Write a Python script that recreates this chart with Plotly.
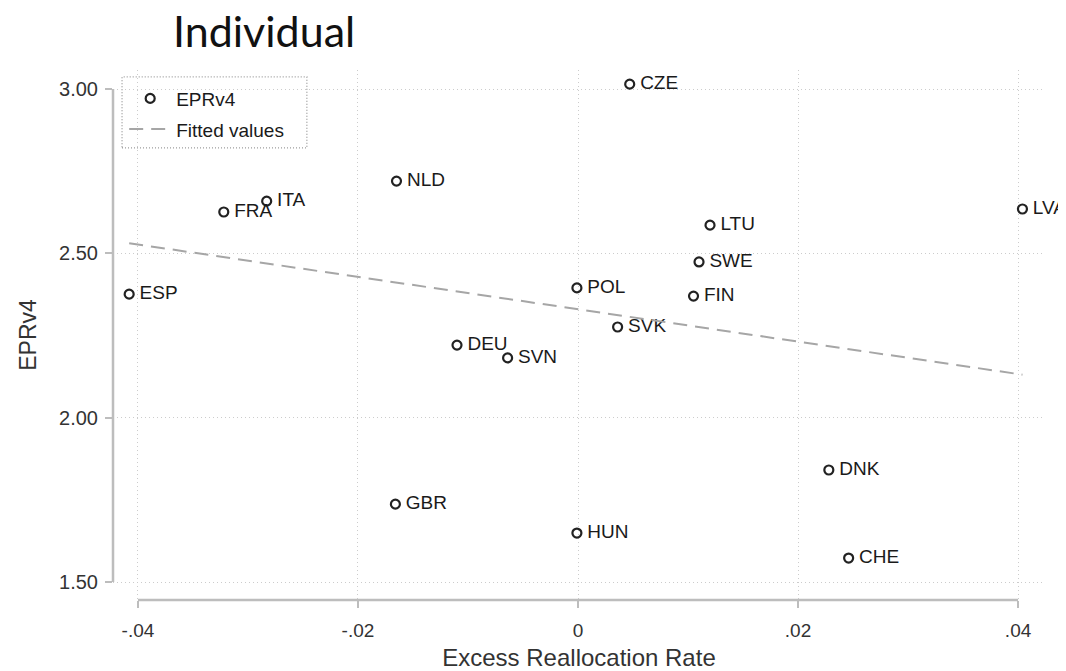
import plotly.graph_objects as go

countries = ["CZE", "NLD", "ITA", "FRA", "ESP", "LTU", "LVA", "SWE", "POL", "FIN",
             "SVK", "DEU", "SVN", "DNK", "GBR", "HUN", "CHE"]
excess_realloc = [0.0047, -0.0165, -0.0283, -0.0322, -0.0408, 0.0120, 0.0404, 0.0110,
                  -0.0001, 0.0105, 0.0036, -0.0110, -0.0064, 0.0228, -0.0166, -0.0001, 0.0246]
eprv4 = [3.015, 2.720, 2.659, 2.626, 2.376, 2.586, 2.635, 2.474, 2.395, 2.370,
         2.276, 2.221, 2.182, 1.841, 1.737, 1.649, 1.573]

fit_x = [-0.0408, 0.0404]
fit_y = [2.531, 2.131]

x_ticks = [-0.04, -0.02, 0, 0.02, 0.04]
x_ticktext = ["-.04", "-.02", "0", ".02", ".04"]
y_ticks = [1.5, 2.0, 2.5, 3.0]
y_ticktext = ["1.50", "2.00", "2.50", "3.00"]

FONT = "Liberation Sans, Arial, sans-serif"
AXIS_GRAY = "#bdbdbd"
GRID = "#cccccc"

labels = ["\u2009" + c for c in countries]

fig = go.Figure()
fig.add_trace(go.Scatter(
    x=excess_realloc, y=eprv4, mode="markers+text", name="EPRv4", legendgroup="a",
    text=labels, textposition="middle right", cliponaxis=False,
    textfont=dict(family=FONT, size=19, color="#1a1a1a"),
    marker=dict(symbol="circle-open", size=9, color="#222222", line=dict(width=2.2, color="#222222")),
))
fig.add_trace(go.Scatter(
    x=fit_x, y=fit_y, mode="lines", name="Fitted values", legendgroup="b",
    line=dict(color="#a6a6a6", width=2, dash="14px,8px"),
))

fig.update_layout(
    width=1058, height=663,
    margin=dict(l=105, r=21, t=62, b=71, autoexpand=False),
    plot_bgcolor="white", paper_bgcolor="white",
    font=dict(family=FONT, color="#333333"),
    showlegend=True,
    legend=dict(x=0.012, y=0.982, xanchor="left", yanchor="top",
                bgcolor="rgba(255,255,255,0)", borderwidth=0,
                font=dict(family=FONT, size=19, color="#1a1a1a"),
                tracegroupgap=3, itemwidth=42),
    xaxis=dict(range=[-0.04227, 0.04245], tickvals=x_ticks, ticktext=x_ticktext,
               showgrid=True, gridcolor=GRID, griddash="1px,3px", gridwidth=1,
               zeroline=False, showline=False, ticks="outside", ticklen=7,
               tickcolor=AXIS_GRAY, tickwidth=2, automargin=False,
               tickfont=dict(family=FONT, size=19, color="#333333"),
               ticklabelstandoff=6,
               title=dict(text="Excess Reallocation Rate", font=dict(family=FONT, size=24, color="#333333"),
                          standoff=14)),
    yaxis=dict(range=[1.4454, 3.058], tickvals=y_ticks, ticktext=y_ticktext,
               showgrid=True, gridcolor=GRID, griddash="1px,3px", gridwidth=1,
               zeroline=False, showline=False, ticks="outside", ticklen=7,
               tickcolor=AXIS_GRAY, tickwidth=2, automargin=False,
               tickfont=dict(family=FONT, size=20, color="#333333"),
               ticklabelstandoff=3,
               title=dict(text="EPRv4", font=dict(family=FONT, size=23, color="#333333"),
                          standoff=16)),
)

# Stata-style axis lines spanning only the tick range
fig.add_shape(type="line", xref="paper", yref="y", x0=0, x1=0, y0=1.5, y1=3.0,
              line=dict(color=AXIS_GRAY, width=2.5))
fig.add_shape(type="line", xref="x", yref="paper", x0=-0.04, x1=0.04, y0=0, y1=0,
              line=dict(color=AXIS_GRAY, width=2.5))
# dotted legend box
fig.add_shape(type="rect", xref="paper", yref="paper",
              x0=0.0097, x1=0.208, y0=0.853, y1=0.987,
              line=dict(color="#999999", width=1.3, dash="1px,2px"), fillcolor="white", layer="below")

fig.add_annotation(text="Individual", xref="paper", yref="paper", x=0.0635, y=1.0736,
                   xanchor="left", yanchor="middle", showarrow=False, borderpad=0,
                   font=dict(family="Lato, Carlito, Calibri, sans-serif", size=43, color="#111111"))

fig.write_html("out.html")
